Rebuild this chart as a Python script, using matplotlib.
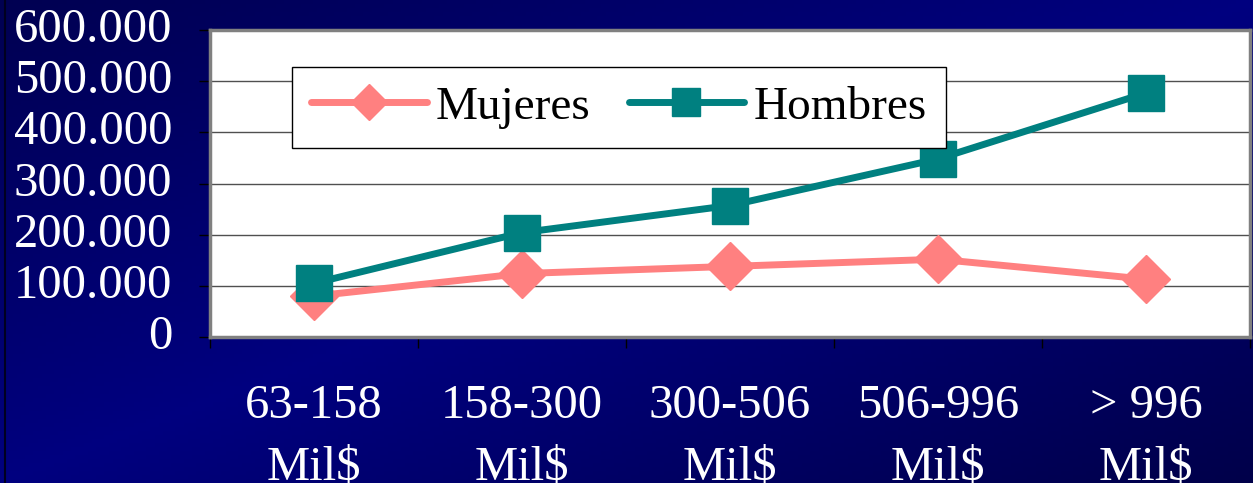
import numpy as np
import matplotlib
matplotlib.use("Agg")
import matplotlib.pyplot as plt

categories = ["63-158\nMil$", "158-300\nMil$", "300-506\nMil$", "506-996\nMil$", "> 996\nMil$"]
mujeres = [80000, 124000, 138000, 152000, 113000]
hombres = [105000, 204000, 257000, 348000, 477000]
yticks = [0, 100000, 200000, 300000, 400000, 500000, 600000]
ytick_labels = ["0", "100.000", "200.000", "300.000", "400.000", "500.000", "600.000"]

plt.rcParams['font.family'] = ['Liberation Serif', 'DejaVu Serif']

W, H = 1253, 483
fig = plt.figure(figsize=(W / 100, H / 100), dpi=100)

# background gradient
bg = fig.add_axes([0, 0, 1, 1], zorder=-10)
xx, yy = np.meshgrid(np.linspace(0, 1, 300), np.linspace(0, 1, 120))
u = (xx + yy) / 2.0
blue = np.where(u < 0.5, 0.50 - 0.18 * (0.5 - u) * 2, 0.50 - 0.21 * (u - 0.5) * 2)
blue = np.clip(blue, 0, 1)
img = np.dstack([np.zeros_like(blue), np.zeros_like(blue), blue])
bg.imshow(img, extent=[0, 1, 0, 1], aspect='auto', origin='upper')
bg.axvline(5 / W, color='#000020', lw=1.5)
bg.set_xlim(0, 1)
bg.set_ylim(0, 1)
bg.axis('off')

left, right = 210 / W, 1250 / W
bottom, top = 1 - 337 / H, 1 - 30 / H
ax = fig.add_axes([left, bottom, right - left, top - bottom])
ax.set_facecolor('white')

x = np.arange(len(categories))
ax.plot(x, mujeres, color='#FF8080', lw=5, marker='D', markersize=24,
        solid_capstyle='round', solid_joinstyle='round', label='Mujeres', zorder=3)
ax.plot(x, hombres, color='#008080', lw=5, marker='s', markersize=26,
        solid_capstyle='round', solid_joinstyle='round', label='Hombres', zorder=4)

ax.set_xlim(-0.5, len(categories) - 0.5)
ax.set_ylim(0, 600000)
ax.set_yticks(yticks)
ax.set_yticklabels(ytick_labels)
ax.yaxis.grid(True, color='#505050', lw=1)
ax.set_axisbelow(True)

ax.set_xticks(np.arange(len(categories) + 1) - 0.5)
ax.set_xticklabels([''] * (len(categories) + 1))
ax.set_xticks(x, minor=True)
ax.set_xticklabels(categories, minor=True, linespacing=1.5)
ax.tick_params(axis='x', which='major', length=8, width=1, color='black', direction='out')
ax.tick_params(axis='x', which='minor', length=0, pad=34, labelsize=35, labelcolor='white')
ax.tick_params(axis='y', length=8, width=1, color='black', direction='out', pad=19,
               labelsize=35, labelcolor='white')
for lab in ax.get_yticklabels():
    lab.set_verticalalignment('center')

for s in ax.spines.values():
    s.set_color('#808080')
    s.set_linewidth(2.5)

leg = ax.legend(loc='upper left', bbox_to_anchor=(292 / W, 1 - 67 / H),
                bbox_transform=fig.transFigure, ncol=2, fontsize=34,
                frameon=True, fancybox=False, edgecolor='black', framealpha=1,
                handlelength=2.45, handletextpad=0.2, columnspacing=0.8,
                borderpad=0.4, borderaxespad=0, markerscale=0.78)
leg.get_frame().set_linewidth(1)

fig.savefig('out.png', dpi=100)
